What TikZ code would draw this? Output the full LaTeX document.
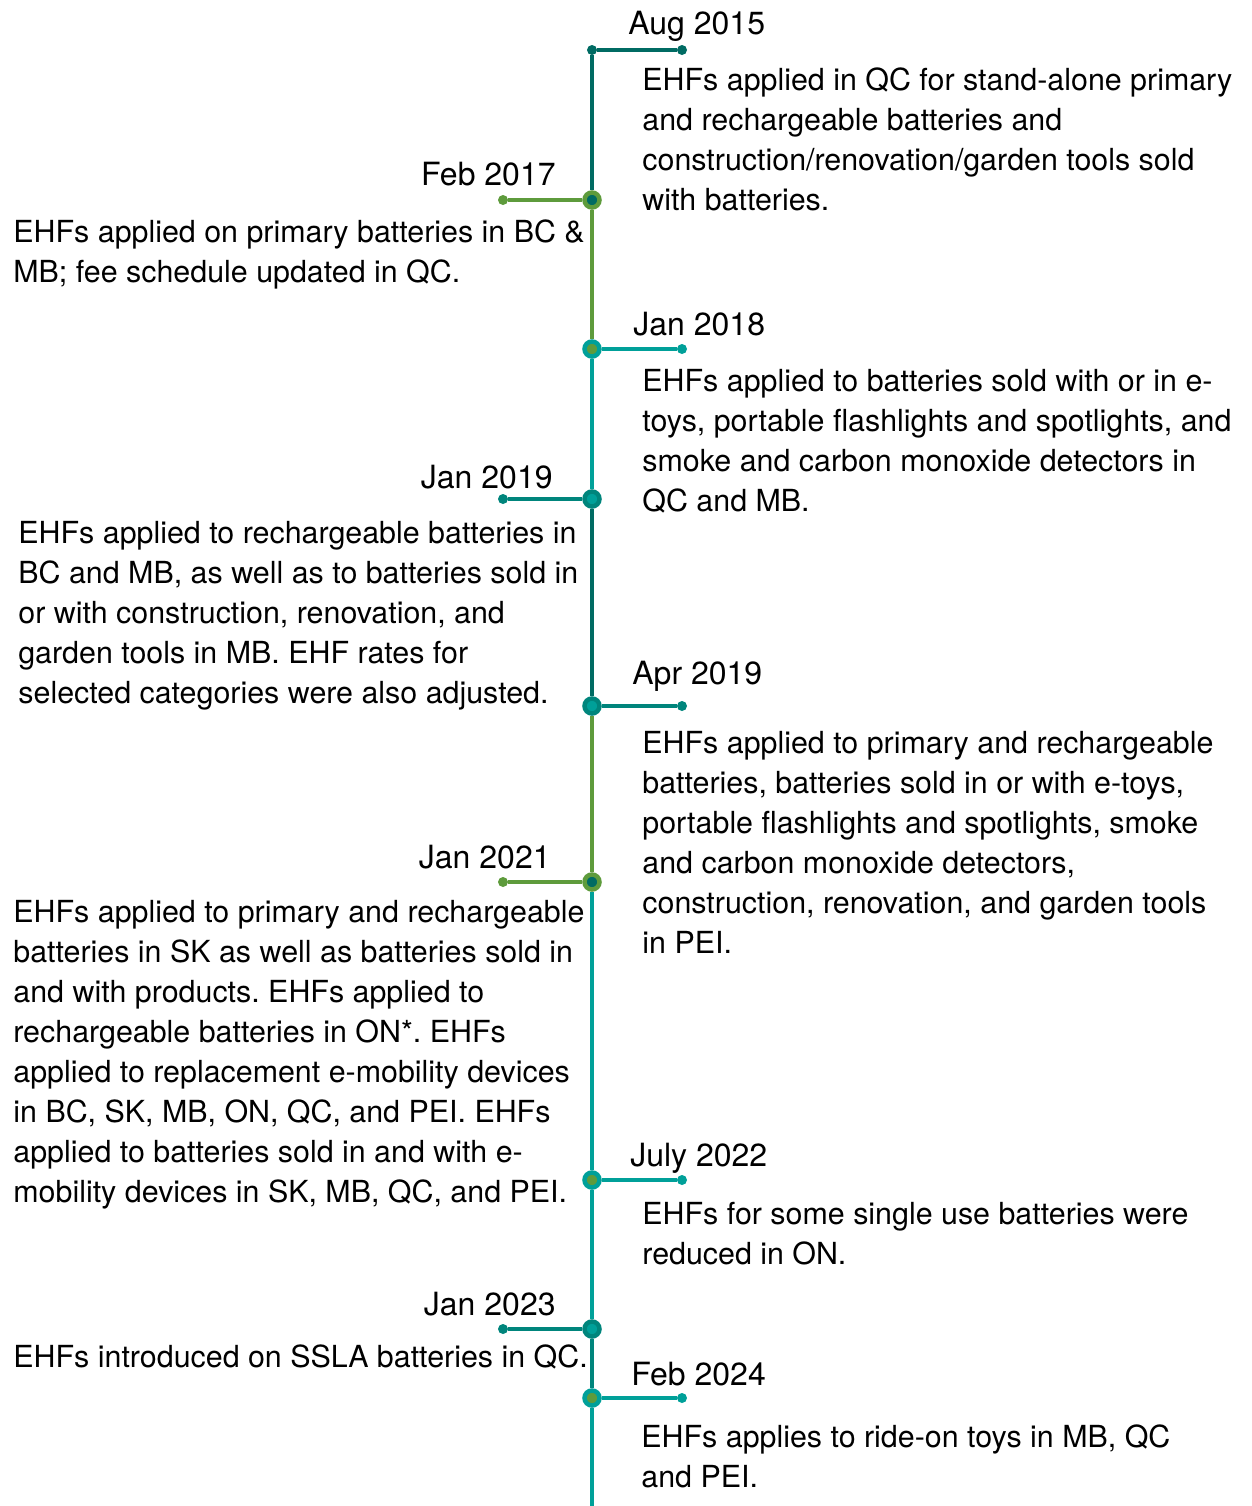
\documentclass[tikz,border=0pt]{standalone}
\usepackage{fontspec}
\setmainfont{TeX Gyre Heros}
\frenchspacing
\usetikzlibrary{backgrounds}
\definecolor{ehfdark}{HTML}{006B63}
\definecolor{ehfmid}{HTML}{00857C}
\definecolor{ehfteal}{HTML}{00A099}
\definecolor{ehfgreen}{HTML}{5E9B3C}
\tikzstyle{every node}=[inner sep=0pt]
\tikzstyle{bigspot}=[circle, minimum size=7.5pt, line width=2.25pt]
\tikzstyle{endspot}=[circle, minimum size=5pt]
\tikzstyle{datelabel}=[font=\fontsize{16}{19}\selectfont]
% base of a note is the baseline of its last line
\tikzstyle{notetext}=[font=\fontsize{15.2}{20}\selectfont, align=left]
\tikzstyle{rail}=[line width=1.9pt]

\begin{document}
\begin{tikzpicture}[x=0.5pt, y=-0.5pt]
	\useasboundingbox (0,0) rectangle (1252,1506);

	% Aug 2015
	\node		[endspot, fill=ehfdark]		(Aug15)  at (592,50) {};
	\node		[endspot, fill=ehfdark]		(Aug15end) at (682,50) {};
	\node		[datelabel, anchor=base west]	(Aug15date) at (628,34) {Aug 2015};
	\node		[notetext, anchor=base west]	(Aug15text) at (642,210) {EHFs applied in QC for stand-alone primary\\and rechargeable batteries and\\construction/renovation/garden tools sold\\with batteries.};

	% Feb 2017
	\node		[bigspot, draw=ehfgreen, fill=ehfdark]	(Feb17) at (592,200) {};
	\node		[endspot, fill=ehfgreen]	(Feb17end) at (503,200) {};
	\node		[datelabel, anchor=base east]	(Feb17date) at (556,185) {Feb 2017};
	\node		[notetext, anchor=base west]	(Feb17text) at (13,282) {EHFs applied on primary batteries in BC \&\\MB; fee schedule updated in QC.};

	% Jan 2018
	\node		[bigspot, draw=ehfteal, fill=ehfgreen]	(Jan18) at (592,349) {};
	\node		[endspot, fill=ehfteal]		(Jan18end) at (682,349) {};
	\node		[datelabel, anchor=base west]	(Jan18date) at (633,335) {Jan 2018};
	\node		[notetext, anchor=base west]	(Jan18text) at (642,511) {EHFs applied to batteries sold with or in e-\\toys, portable flashlights and spotlights, and\\smoke and carbon monoxide detectors in\\QC and MB.};

	% Jan 2019
	\node		[bigspot, draw=ehfmid, fill=ehfteal]	(Jan19) at (592,499) {};
	\node		[endspot, fill=ehfmid]		(Jan19end) at (503,499) {};
	\node		[datelabel, anchor=base east]	(Jan19date) at (553,488) {Jan 2019};
	\node		[notetext, anchor=base west]	(Jan19text) at (18,703) {EHFs applied to rechargeable batteries in\\BC and MB, as well as to batteries sold in\\or with construction, renovation, and\\garden tools in MB. EHF rates for\\selected categories were also adjusted.};

	% Apr 2019
	\node		[bigspot, draw=ehfmid, fill=ehfteal]	(Apr19) at (592,706) {};
	\node		[endspot, fill=ehfmid]		(Apr19end) at (682,706) {};
	\node		[datelabel, anchor=base west]	(Apr19date) at (632,684) {Apr 2019};
	\node		[notetext, anchor=base west]	(Apr19text) at (642,953) {EHFs applied to primary and rechargeable\\batteries, batteries sold in or with e-toys,\\portable flashlights and spotlights, smoke\\and carbon monoxide detectors,\\construction, renovation, and garden tools\\in PEI.};

	% Jan 2021
	\node		[bigspot, draw=ehfgreen, fill=ehfdark]	(Jan21) at (592,882) {};
	\node		[endspot, fill=ehfgreen]	(Jan21end) at (503,882) {};
	\node		[datelabel, anchor=base east]	(Jan21date) at (551,868) {Jan 2021};
	\node		[notetext, anchor=base west]	(Jan21text) at (13,1202) {EHFs applied to primary and rechargeable\\batteries in SK as well as batteries sold in\\and with products. EHFs applied to\\rechargeable batteries in ON*. EHFs\\applied to replacement e-mobility devices\\in BC, SK, MB, ON, QC, and PEI. EHFs\\applied to batteries sold in and with e-\\mobility devices in SK, MB, QC, and PEI.};

	% July 2022
	\node		[bigspot, draw=ehfteal, fill=ehfgreen]	(Jul22) at (592,1180) {};
	\node		[endspot, fill=ehfteal]		(Jul22end) at (682,1180) {};
	\node		[datelabel, anchor=base west]	(Jul22date) at (630,1166) {July 2022};
	\node		[notetext, anchor=base west]	(Jul22text) at (642,1264) {EHFs for some single use batteries were\\reduced in ON.};

	% Jan 2023
	\node		[bigspot, draw=ehfmid, fill=ehfteal]	(Jan23) at (592,1329) {};
	\node		[endspot, fill=ehfmid]		(Jan23end) at (503,1329) {};
	\node		[datelabel, anchor=base east]	(Jan23date) at (556,1315) {Jan 2023};
	\node		[notetext, anchor=base west]	(Jan23text) at (13,1367) {EHFs introduced on SSLA batteries in QC.};

	% Feb 2024
	\node		[bigspot, draw=ehfteal, fill=ehfgreen]	(Feb24) at (592,1398) {};
	\node		[endspot, fill=ehfteal]		(Feb24end) at (682,1398) {};
	\node		[datelabel, anchor=base west]	(Feb24date) at (631,1385) {Feb 2024};
	\node		[notetext, anchor=base west]	(Feb24text) at (641,1487) {EHFs applies to ride-on toys in MB, QC\\and PEI.};

	\coordinate	(Bottom) at (592,1506);

	\begin{scope}[on background layer]
	\draw[rail, ehfdark] (Aug15)--(Feb17);
	\draw[rail, ehfgreen] (Feb17)--(Jan18);
	\draw[rail, ehfteal] (Jan18)--(Jan19);
	\draw[rail, ehfdark] (Jan19)--(Apr19);
	\draw[rail, ehfgreen] (Apr19)--(Jan21);
	\draw[rail, ehfteal] (Jan21)--(Jul22);
	\draw[rail, ehfteal] (Jul22)--(Jan23);
	\draw[rail, ehfmid] (Jan23)--(Feb24);
	\draw[rail, ehfteal] (Feb24)--(Bottom);

	\draw[rail, ehfdark] (Aug15)--(Aug15end);
	\draw[rail, ehfgreen] (Feb17)--(Feb17end);
	\draw[rail, ehfteal] (Jan18)--(Jan18end);
	\draw[rail, ehfmid] (Jan19)--(Jan19end);
	\draw[rail, ehfmid] (Apr19)--(Apr19end);
	\draw[rail, ehfgreen] (Jan21)--(Jan21end);
	\draw[rail, ehfteal] (Jul22)--(Jul22end);
	\draw[rail, ehfmid] (Jan23)--(Jan23end);
	\draw[rail, ehfteal] (Feb24)--(Feb24end);
	\end{scope}
\end{tikzpicture}
\end{document}
